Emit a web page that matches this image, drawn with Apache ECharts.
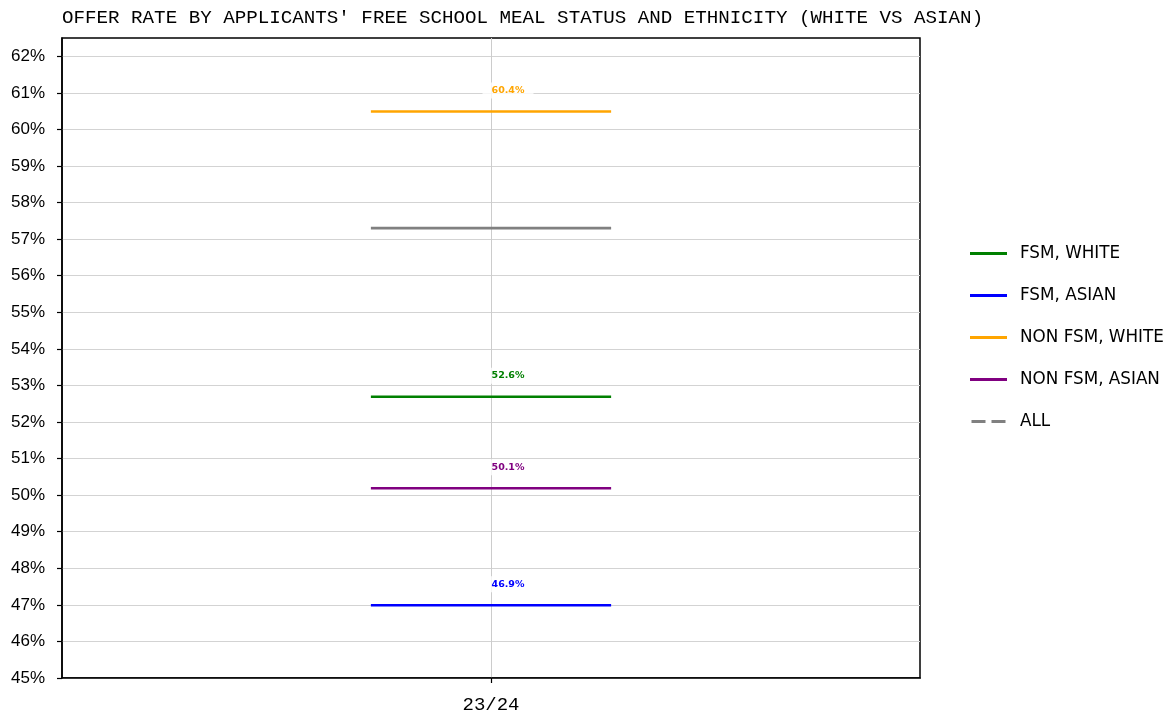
<!DOCTYPE html>
<html>
<head>
<meta charset="utf-8">
<script src="https://cdn.jsdelivr.net/npm/echarts@6/dist/echarts.min.js"></script>
<style>
html,body{margin:0;padding:0;background:#fff;}
#chart{width:1171px;height:716px;}
</style>
</head>
<body>
<div id="chart"></div>
<script>
// ---- data ----
const categories = ['23/24'];
const seriesNames = ['FSM, WHITE', 'FSM, ASIAN', 'NON FSM, WHITE', 'NON FSM, ASIAN', 'ALL'];
const fsmWhite = [52.69];
const fsmAsian = [46.99];
const nonFsmWhite = [60.49];
const nonFsmAsian = [50.19];
const allApplicants = [57.3];
const yTicks = [45,46,47,48,49,50,51,52,53,54,55,56,57,58,59,60,61,62];

// ---- styling ----
const colors = ['#008000', '#0000ff', '#ffa500', '#800080', '#808080'];
const showLabels = [true, true, true, true, false];
const seriesValues = [fsmWhite, fsmAsian, nonFsmWhite, nonFsmAsian, allApplicants];
const SEG_FRAC = 0.14;

function fmtLabel(v) {
  return (Math.floor(v * 10 + 1e-9) / 10).toFixed(1) + '%';
}

function makeRender(color, withLabel) {
  return function (params, api) {
    const c = api.coord([api.value(0), api.value(1)]);
    const bw = api.size([1, 0])[0];
    const half = bw * SEG_FRAC;
    const children = [{
      type: 'line',
      shape: { x1: c[0] - half, y1: c[1], x2: c[0] + half, y2: c[1] },
      style: { stroke: color, lineWidth: 2.6 }
    }];
    if (withLabel) {
      children.push({
        type: 'text',
        x: c[0] + 17,
        y: c[1] - 21,
        z2: 10,
        style: {
          text: fmtLabel(api.value(1)),
          fill: color,
          font: 'bold 9.5px "DejaVu Sans"',
          align: 'center',
          verticalAlign: 'middle',
          backgroundColor: 'rgba(255,255,255,0.8)',
          padding: [3, 9]
        }
      });
    }
    return { type: 'group', children: children };
  };
}

const series = seriesNames.map(function (name, i) {
  return {
    name: name,
    type: 'custom',
    clip: false,
    itemStyle: { color: colors[i] },
    renderItem: makeRender(colors[i], showLabels[i]),
    encode: { x: 0, y: 1 },
    data: seriesValues[i].map(function (v, j) { return [j, v]; })
  };
});

const legendData = seriesNames.map(function (name, i) {
  return {
    name: name,
    icon: i === 4 ? 'path://M0,0h14v3h-14z M20,0h14v3h-14z' : 'rect'
  };
});

const chart = echarts.init(document.getElementById('chart'), null, { renderer: 'canvas' });
chart.setOption({
  animation: false,
  backgroundColor: '#ffffff',
  title: {
    text: "OFFER RATE BY APPLICANTS' FREE SCHOOL MEAL STATUS AND ETHNICITY (WHITE VS ASIAN)",
    left: 62,
    top: 8,
    padding: 0,
    textStyle: { fontFamily: '"Liberation Mono", monospace', fontSize: 19.2, fontWeight: 'normal', color: '#000' }
  },
  legend: {
    orient: 'vertical',
    left: 965,
    top: 240,
    itemWidth: 37,
    itemHeight: 3,
    itemGap: 25,
    data: legendData,
    textStyle: { fontFamily: '"DejaVu Sans"', fontSize: 16.8, color: '#000', padding: [0, 0, 0, 8] }
  },
  grid: {
    left: 62, right: 251, top: 38, bottom: 38,
    show: true, borderColor: '#000', borderWidth: 1.5,
    containLabel: false
  },
  xAxis: {
    type: 'category',
    data: categories,
    boundaryGap: true,
    axisLine: { show: true, lineStyle: { color: '#000', width: 1.5 } },
    axisTick: { show: true, alignWithLabel: true, length: 5, lineStyle: { color: '#000', width: 1.2 } },
    axisLabel: { margin: 17, fontFamily: '"Liberation Mono", monospace', fontSize: 19, color: '#000' },
    splitLine: { show: true, alignWithLabel: true, lineStyle: { color: '#cccccc', width: 1 } }
  },
  yAxis: {
    type: 'value',
    min: 45,
    max: 62.5,
    interval: 1,
    axisLine: { show: true, lineStyle: { color: '#000', width: 1.5 } },
    axisTick: { show: true, length: 5, customValues: yTicks, lineStyle: { color: '#000', width: 1.2 } },
    axisLabel: {
      customValues: yTicks,
      margin: 17,
      fontFamily: '"Liberation Sans", Arial, sans-serif',
      fontSize: 17,
      color: '#000',
      formatter: function (v) { return v + '%'; }
    },
    splitLine: { show: true, lineStyle: { color: '#d3d3d3', width: 1 } }
  },
  series: series
});
</script>
</body>
</html>
